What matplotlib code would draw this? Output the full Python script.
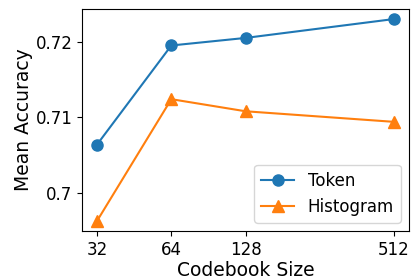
import matplotlib
matplotlib.use("Agg")
import matplotlib.pyplot as plt

codebook_sizes = [32, 64, 128, 512]
token_acc = [0.7064, 0.7195, 0.7205, 0.7230]
hist_acc = [0.6963, 0.7124, 0.7108, 0.7094]
y_ticks = [0.70, 0.71, 0.72]
y_tick_labels = ["0.7", "0.71", "0.72"]


def main():
    fig, ax = plt.subplots(figsize=(4.11, 2.79), dpi=100)
    fig.subplots_adjust(left=0.2, right=0.995, top=0.968, bottom=0.172)

    ax.plot(codebook_sizes, token_acc, marker="o", markersize=8, label="Token")
    ax.plot(codebook_sizes, hist_acc, marker="^", markersize=8, label="Histogram")

    ax.set_xscale("log", base=2)
    ax.set_xticks(codebook_sizes)
    ax.set_xticklabels([str(s) for s in codebook_sizes])
    ax.minorticks_off()
    ax.set_yticks(y_ticks)
    ax.set_yticklabels(y_tick_labels)
    ax.tick_params(labelsize=12)

    ax.set_xlabel("Codebook Size", fontsize=13.5, labelpad=1.5)
    ax.set_ylabel("Mean Accuracy", fontsize=13.5, labelpad=2)
    ax.legend(loc="lower right", fontsize=12)

    fig.savefig("out.png", dpi=100)


if __name__ == "__main__":
    main()
